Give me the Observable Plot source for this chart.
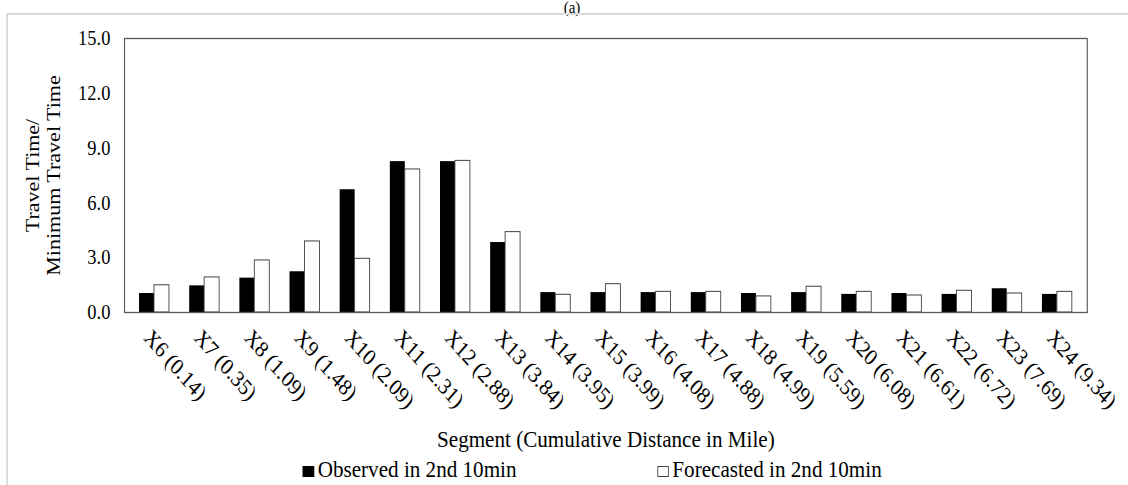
<!DOCTYPE html>
<html>
<head>
<meta charset="utf-8">
<script src="https://cdn.jsdelivr.net/npm/d3@7"></script>
<script src="https://cdn.jsdelivr.net/npm/@observablehq/plot@0.6"></script>
<style>
  html, body { margin: 0; padding: 0; background: #fff; overflow: hidden; }
  body { width: 1128px; height: 485px; }
  #wrap {
    position: relative; width: 1282px; height: 485px;
    transform: scaleX(0.88); transform-origin: 0 0;
    font-family: "Liberation Serif", "Times New Roman", serif; color: #000;
  }
  #chart svg, #chart svg text { font-family: "Liberation Serif", "Times New Roman", serif !important; }
  #title { position: absolute; left: 550px; width: 200px; top: -1px; text-align: center;
    font-size: 17px; line-height: 17px; }
  #border { position: absolute; left: 7px; top: 13px; width: 1400px; height: 600px;
    border: 2px solid #d9d9d9; }
  #chart { position: absolute; left: 0; top: 14px; }
  #legend { position: absolute; left: 0; top: 457px; width: 1282px; height: 28px;
    font-size: 24px; line-height: 24px; }
  .item { position: absolute; top: 0; white-space: nowrap; }
  .sw { display: inline-block; width: 13px; height: 11px; margin-right: 4px; box-sizing: border-box; }
</style>
</head>
<body>
<div id="wrap">
  <div id="title">(a)</div>
  <div id="border"></div>
  <div id="chart"></div>
  <div id="legend"></div>
</div>
<script>
// Segments with cumulative distance (miles)
const segments = ["X6 (0.14)", "X7 (0.35)", "X8 (1.09)", "X9 (1.48)", "X10 (2.09)", "X11 (2.31)",
  "X12 (2.88)", "X13 (3.84)", "X14 (3.95)", "X15 (3.99)", "X16 (4.08)", "X17 (4.88)", "X18 (4.99)",
  "X19 (5.59)", "X20 (6.08)", "X21 (6.61)", "X22 (6.72)", "X23 (7.69)", "X24 (9.34)"];
// Travel time / minimum travel time ratios
const observed = [1.04, 1.46, 1.88, 2.23, 6.72, 8.26, 8.26, 3.83, 1.09, 1.09, 1.09, 1.09, 1.04,
  1.09, 0.99, 1.04, 0.99, 1.30, 0.99];
const forecasted = [1.49, 1.92, 2.85, 3.89, 2.94, 7.83, 8.30, 4.40, 0.97, 1.55, 1.13, 1.13, 0.88,
  1.41, 1.13, 0.93, 1.19, 1.04, 1.13];
const seriesNames = ["Observed in 2nd 10min", "Forecasted in 2nd 10min"];
const yTicks = [0, 3, 6, 9, 12, 15];
const yLabel = "Travel Time/\nMinimum Travel Time";
const xLabel = "Segment (Cumulative Distance in Mile)";

const obsData = segments.map((s, i) => ({segment: s, value: observed[i]}));
const fcData = segments.map((s, i) => ({segment: s, value: forecasted[i]}));

const serif = "'Liberation Serif', 'Times New Roman', serif";
const width = 1282, height = 442;
const marginLeft = 141, marginRight = 47, marginTop = 24, marginBottom = 144;
const pad = 0.41;
// half of the band width: each series takes one half of its category band
const step = (width - marginLeft - marginRight) / segments.length;
const half = step * (1 - pad) / 2;

const hasAxisMarks = typeof Plot.axisX === "function";
const xAxisOpts = {tickSize: 0, tickRotate: 45, tickPadding: 21, label: null};
const yAxisOpts = {ticks: yTicks, tickFormat: d3.format(".1f"), tickSize: 0, tickPadding: 16, label: null};

const chart = Plot.plot({
  width, height, marginLeft, marginRight, marginTop, marginBottom,
  style: {fontFamily: serif, fontSize: "21px", color: "#000", background: "transparent"},
  x: {domain: segments, paddingInner: pad, paddingOuter: pad / 2, ...(hasAxisMarks ? {} : xAxisOpts)},
  y: {domain: [0, 15], ...(hasAxisMarks ? {} : yAxisOpts)},
  marks: [
    Plot.barY(obsData, {x: "segment", y: "value", fill: "#000", insetRight: half}),
    Plot.barY(fcData, {x: "segment", y: "value", fill: "#fff", stroke: "#404040", strokeWidth: 1, insetLeft: half}),
    Plot.frame({stroke: "#595959", strokeWidth: 1.3}),
    ...(hasAxisMarks ? [
      Plot.axisX({...xAxisOpts, fontSize: 23, fontFamily: serif, dx: -8}),
      Plot.axisY({...yAxisOpts, fontFamily: serif})
    ] : []),
    Plot.text([yLabel], {text: d => d, frameAnchor: "left", rotate: -90, dx: -93,
      lineAnchor: "middle", textAnchor: "middle", lineHeight: 1.08, fontSize: 22, fontFamily: serif}),
    Plot.text([xLabel], {text: d => d, frameAnchor: "bottom", lineAnchor: "bottom", dy: 134,
      fontSize: 24, fontFamily: serif})
  ]
});
document.getElementById("chart").appendChild(chart);

// Legend
const legend = document.getElementById("legend");
const legendX = [344, 747];
const swatch = [{fill: "#000", stroke: "#000"}, {fill: "#fff", stroke: "#404040"}];
seriesNames.forEach((name, i) => {
  const item = document.createElement("div");
  item.className = "item";
  item.style.left = legendX[i] + "px";
  const sw = document.createElement("span");
  sw.className = "sw";
  sw.style.background = swatch[i].fill;
  sw.style.border = "1px solid " + swatch[i].stroke;
  item.appendChild(sw);
  item.appendChild(document.createTextNode(name));
  legend.appendChild(item);
});
</script>
</body>
</html>
